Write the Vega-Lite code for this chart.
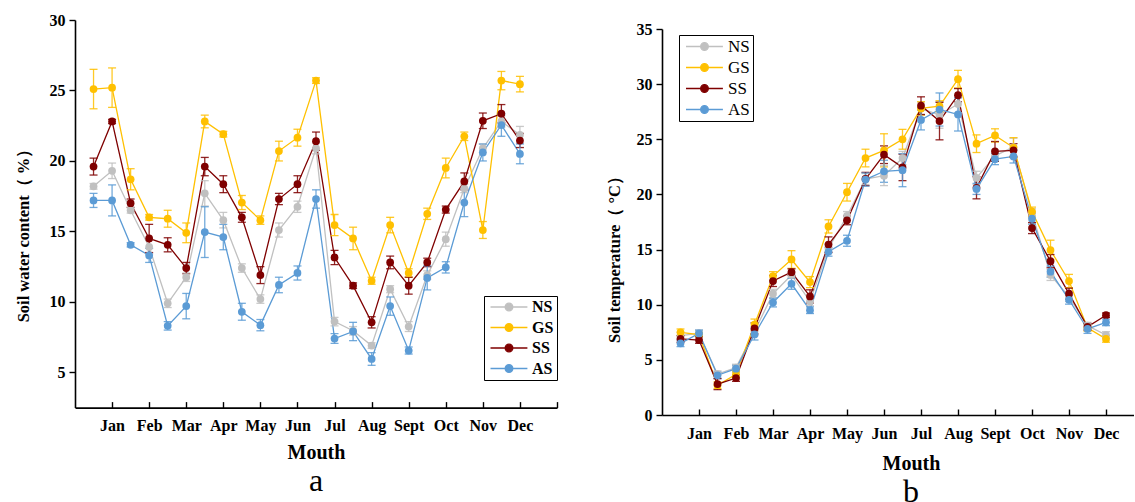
{
"$schema": "https://vega.github.io/schema/vega-lite/v6.json",
"padding": {"left": 15, "top": 12, "right": 0, "bottom": 0},
"config": {
  "font": "Liberation Serif, Times New Roman, serif",
  "view": {"stroke": null},
  "axis": {"grid": false, "domainColor": "black", "domainWidth": 1.6, "tickColor": "black", "tickWidth": 1.4, "labelColor": "black", "titleColor": "black", "labelFont": "Liberation Serif, Times New Roman, serif", "titleFont": "Liberation Serif, Times New Roman, serif", "labelFontWeight": "bold", "titleFontWeight": "bold", "labelFontSize": 16},
  "legend": {"strokeColor": "black", "strokeWidth": 1, "padding": 3, "title": null, "symbolSize": 81, "labelOffset": 29, "rowPadding": 3, "symbolStrokeWidth": 1.3,
    "symbolType": "M-1,0H7.2M2.26,0A0.85,0.85,0,1,1,3.96,0A0.85,0.85,0,1,1,2.26,0Z"}
},
"datasets": {
  "wc": [
    {"m":0,"s":"NS","v":18.2,"e":0.2},{"m":1,"s":"NS","v":19.3,"e":0.55},{"m":2,"s":"NS","v":16.5,"e":0.2},{"m":3,"s":"NS","v":13.9,"e":0.5},{"m":4,"s":"NS","v":9.9,"e":0.3},{"m":5,"s":"NS","v":11.75,"e":0.3},{"m":6,"s":"NS","v":17.7,"e":0.9},{"m":7,"s":"NS","v":15.8,"e":0.55},{"m":8,"s":"NS","v":12.4,"e":0.3},{"m":9,"s":"NS","v":10.2,"e":0.3},{"m":10,"s":"NS","v":15.1,"e":0.5},{"m":11,"s":"NS","v":16.75,"e":0.4},{"m":12,"s":"NS","v":20.9,"e":0.4},{"m":13,"s":"NS","v":8.6,"e":0.3},{"m":14,"s":"NS","v":7.95,"e":0.3},{"m":15,"s":"NS","v":6.9,"e":0.2},{"m":16,"s":"NS","v":10.9,"e":0.25},{"m":17,"s":"NS","v":8.25,"e":0.35},{"m":18,"s":"NS","v":11.9,"e":0.3},{"m":19,"s":"NS","v":14.45,"e":0.5},{"m":20,"s":"NS","v":18.05,"e":0.3},{"m":21,"s":"NS","v":20.9,"e":0.3},{"m":22,"s":"NS","v":22.8,"e":0.4},{"m":23,"s":"NS","v":21.85,"e":0.6},
    {"m":0,"s":"GS","v":25.1,"e":1.4},{"m":1,"s":"GS","v":25.2,"e":1.4},{"m":2,"s":"GS","v":18.7,"e":0.75},{"m":3,"s":"GS","v":16.0,"e":0.2},{"m":4,"s":"GS","v":15.9,"e":0.6},{"m":5,"s":"GS","v":14.9,"e":0.7},{"m":6,"s":"GS","v":22.8,"e":0.45},{"m":7,"s":"GS","v":21.9,"e":0.2},{"m":8,"s":"GS","v":17.05,"e":0.5},{"m":9,"s":"GS","v":15.8,"e":0.3},{"m":10,"s":"GS","v":20.7,"e":0.7},{"m":11,"s":"GS","v":21.65,"e":0.6},{"m":12,"s":"GS","v":25.7,"e":0.2},{"m":13,"s":"GS","v":15.45,"e":0.75},{"m":14,"s":"GS","v":14.5,"e":0.8},{"m":15,"s":"GS","v":11.5,"e":0.25},{"m":16,"s":"GS","v":15.45,"e":0.55},{"m":17,"s":"GS","v":12.05,"e":0.3},{"m":18,"s":"GS","v":16.25,"e":0.4},{"m":19,"s":"GS","v":19.5,"e":0.7},{"m":20,"s":"GS","v":21.75,"e":0.3},{"m":21,"s":"GS","v":15.1,"e":0.6},{"m":22,"s":"GS","v":25.7,"e":0.65},{"m":23,"s":"GS","v":25.45,"e":0.55},
    {"m":0,"s":"SS","v":19.6,"e":0.6},{"m":1,"s":"SS","v":22.8,"e":0.15},{"m":2,"s":"SS","v":17.0,"e":0.3},{"m":3,"s":"SS","v":14.5,"e":1.0},{"m":4,"s":"SS","v":14.05,"e":0.5},{"m":5,"s":"SS","v":12.4,"e":0.4},{"m":6,"s":"SS","v":19.6,"e":0.65},{"m":7,"s":"SS","v":18.35,"e":0.6},{"m":8,"s":"SS","v":16.0,"e":0.35},{"m":9,"s":"SS","v":11.9,"e":0.6},{"m":10,"s":"SS","v":17.3,"e":0.4},{"m":11,"s":"SS","v":18.35,"e":0.6},{"m":12,"s":"SS","v":21.4,"e":0.65},{"m":13,"s":"SS","v":13.15,"e":0.5},{"m":14,"s":"SS","v":11.15,"e":0.2},{"m":15,"s":"SS","v":8.55,"e":0.4},{"m":16,"s":"SS","v":12.8,"e":0.45},{"m":17,"s":"SS","v":11.15,"e":0.6},{"m":18,"s":"SS","v":12.8,"e":0.3},{"m":19,"s":"SS","v":16.55,"e":0.25},{"m":20,"s":"SS","v":18.55,"e":0.6},{"m":21,"s":"SS","v":22.85,"e":0.55},{"m":22,"s":"SS","v":23.35,"e":0.65},{"m":23,"s":"SS","v":21.45,"e":0.5},
    {"m":0,"s":"AS","v":17.2,"e":0.5},{"m":1,"s":"AS","v":17.2,"e":1.1},{"m":2,"s":"AS","v":14.05,"e":0.15},{"m":3,"s":"AS","v":13.3,"e":0.5},{"m":4,"s":"AS","v":8.3,"e":0.3},{"m":5,"s":"AS","v":9.7,"e":0.9},{"m":6,"s":"AS","v":14.95,"e":1.8},{"m":7,"s":"AS","v":14.6,"e":0.9},{"m":8,"s":"AS","v":9.3,"e":0.6},{"m":9,"s":"AS","v":8.35,"e":0.4},{"m":10,"s":"AS","v":11.2,"e":0.55},{"m":11,"s":"AS","v":12.05,"e":0.5},{"m":12,"s":"AS","v":17.3,"e":0.65},{"m":13,"s":"AS","v":7.4,"e":0.35},{"m":14,"s":"AS","v":7.9,"e":0.65},{"m":15,"s":"AS","v":5.95,"e":0.45},{"m":16,"s":"AS","v":9.7,"e":0.65},{"m":17,"s":"AS","v":6.55,"e":0.25},{"m":18,"s":"AS","v":11.7,"e":0.85},{"m":19,"s":"AS","v":12.45,"e":0.4},{"m":20,"s":"AS","v":17.05,"e":1.0},{"m":21,"s":"AS","v":20.6,"e":0.6},{"m":22,"s":"AS","v":22.55,"e":0.8},{"m":23,"s":"AS","v":20.5,"e":0.7}
  ],
  "st": [
    {"m":0,"s":"NS","v":7.2,"e":0.3},{"m":1,"s":"NS","v":7.4,"e":0.3},{"m":2,"s":"NS","v":3.7,"e":0.3},{"m":3,"s":"NS","v":4.3,"e":0.3},{"m":4,"s":"NS","v":7.6,"e":0.4},{"m":5,"s":"NS","v":11.0,"e":0.4},{"m":6,"s":"NS","v":12.7,"e":0.3},{"m":7,"s":"NS","v":10.3,"e":0.4},{"m":8,"s":"NS","v":15.1,"e":0.4},{"m":9,"s":"NS","v":18.05,"e":0.4},{"m":10,"s":"NS","v":21.4,"e":0.5},{"m":11,"s":"NS","v":21.7,"e":0.9},{"m":12,"s":"NS","v":23.3,"e":0.6},{"m":13,"s":"NS","v":27.8,"e":0.6},{"m":14,"s":"NS","v":27.2,"e":1.2},{"m":15,"s":"NS","v":28.2,"e":0.8},{"m":16,"s":"NS","v":21.5,"e":0.6},{"m":17,"s":"NS","v":23.5,"e":0.5},{"m":18,"s":"NS","v":24.3,"e":0.8},{"m":19,"s":"NS","v":18.3,"e":0.4},{"m":20,"s":"NS","v":12.7,"e":0.5},{"m":21,"s":"NS","v":10.7,"e":0.4},{"m":22,"s":"NS","v":8.1,"e":0.3},{"m":23,"s":"NS","v":7.25,"e":0.3},
    {"m":0,"s":"GS","v":7.5,"e":0.3},{"m":1,"s":"GS","v":7.3,"e":0.2},{"m":2,"s":"GS","v":2.7,"e":0.3},{"m":3,"s":"GS","v":3.7,"e":0.3},{"m":4,"s":"GS","v":8.2,"e":0.5},{"m":5,"s":"GS","v":12.6,"e":0.4},{"m":6,"s":"GS","v":14.1,"e":0.8},{"m":7,"s":"GS","v":12.05,"e":0.5},{"m":8,"s":"GS","v":17.1,"e":0.6},{"m":9,"s":"GS","v":20.2,"e":0.8},{"m":10,"s":"GS","v":23.3,"e":0.8},{"m":11,"s":"GS","v":24.0,"e":1.5},{"m":12,"s":"GS","v":25.0,"e":0.9},{"m":13,"s":"GS","v":27.8,"e":0.6},{"m":14,"s":"GS","v":28.0,"e":0.5},{"m":15,"s":"GS","v":30.45,"e":0.8},{"m":16,"s":"GS","v":24.6,"e":0.8},{"m":17,"s":"GS","v":25.35,"e":0.6},{"m":18,"s":"GS","v":24.25,"e":0.9},{"m":19,"s":"GS","v":18.45,"e":0.4},{"m":20,"s":"GS","v":14.95,"e":0.9},{"m":21,"s":"GS","v":12.15,"e":0.6},{"m":22,"s":"GS","v":7.9,"e":0.3},{"m":23,"s":"GS","v":6.9,"e":0.3},
    {"m":0,"s":"SS","v":6.9,"e":0.3},{"m":1,"s":"SS","v":6.8,"e":0.3},{"m":2,"s":"SS","v":2.8,"e":0.5},{"m":3,"s":"SS","v":3.35,"e":0.3},{"m":4,"s":"SS","v":7.85,"e":0.5},{"m":5,"s":"SS","v":12.15,"e":0.5},{"m":6,"s":"SS","v":12.95,"e":0.3},{"m":7,"s":"SS","v":10.75,"e":0.6},{"m":8,"s":"SS","v":15.45,"e":0.7},{"m":9,"s":"SS","v":17.65,"e":0.4},{"m":10,"s":"SS","v":21.4,"e":0.6},{"m":11,"s":"SS","v":23.6,"e":0.8},{"m":12,"s":"SS","v":22.45,"e":1.2},{"m":13,"s":"SS","v":28.05,"e":0.8},{"m":14,"s":"SS","v":26.65,"e":1.7},{"m":15,"s":"SS","v":29.0,"e":0.6},{"m":16,"s":"SS","v":20.6,"e":1.0},{"m":17,"s":"SS","v":23.9,"e":0.9},{"m":18,"s":"SS","v":24.0,"e":0.6},{"m":19,"s":"SS","v":16.95,"e":0.5},{"m":20,"s":"SS","v":13.95,"e":0.6},{"m":21,"s":"SS","v":11.0,"e":0.5},{"m":22,"s":"SS","v":8.0,"e":0.3},{"m":23,"s":"SS","v":9.05,"e":0.2},
    {"m":0,"s":"AS","v":6.5,"e":0.3},{"m":1,"s":"AS","v":7.4,"e":0.3},{"m":2,"s":"AS","v":3.6,"e":0.3},{"m":3,"s":"AS","v":4.2,"e":0.3},{"m":4,"s":"AS","v":7.3,"e":0.5},{"m":5,"s":"AS","v":10.2,"e":0.4},{"m":6,"s":"AS","v":11.9,"e":0.5},{"m":7,"s":"AS","v":9.5,"e":0.3},{"m":8,"s":"AS","v":14.8,"e":0.4},{"m":9,"s":"AS","v":15.8,"e":0.5},{"m":10,"s":"AS","v":21.35,"e":0.6},{"m":11,"s":"AS","v":22.1,"e":1.0},{"m":12,"s":"AS","v":22.2,"e":1.5},{"m":13,"s":"AS","v":26.75,"e":0.9},{"m":14,"s":"AS","v":27.7,"e":1.5},{"m":15,"s":"AS","v":27.25,"e":1.5},{"m":16,"s":"AS","v":20.5,"e":0.5},{"m":17,"s":"AS","v":23.2,"e":0.5},{"m":18,"s":"AS","v":23.45,"e":0.6},{"m":19,"s":"AS","v":17.8,"e":0.5},{"m":20,"s":"AS","v":13.0,"e":0.5},{"m":21,"s":"AS","v":10.45,"e":0.4},{"m":22,"s":"AS","v":7.8,"e":0.4},{"m":23,"s":"AS","v":8.4,"e":0.3}
  ]
},
"resolve": {"scale": {"x": "independent", "y": "independent", "color": "independent"}, "legend": {"color": "independent"}},
"spacing": 48,
"hconcat": [
  {
    "width": 482, "height": 387.6,
    "data": {"name": "wc"},
    "title": {"text": "a", "orient": "bottom", "frame": "group", "anchor": "middle", "fontSize": 32, "fontWeight": "normal", "font": "Liberation Serif, Times New Roman, serif", "offset": 3},
    "encoding": {
      "x": {"field": "m", "type": "quantitative", "scale": {"domain": [-1, 25], "nice": false, "zero": false},
        "axis": {"values": [1,3,5,7,9,11,13,15,17,19,21,23,25], "labelExpr": "['Jan','Feb','Mar','Apr','May','Jun','Jul','Aug','Sept','Oct','Nov','Dec',''][(datum.value-1)/2]", "tickSize": -6, "labelPadding": 16, "title": "Mouth", "titleFontSize": 20, "titlePadding": 9}},
      "y": {"field": "v", "type": "quantitative", "scale": {"domain": [2.5, 30], "nice": false, "zero": false},
         "axis": {"values": [5,10,15,20,25,30], "tickSize": 6, "labelPadding": 4, "title": "Soil water content（ %）", "titleFontSize": 16.5, "titlePadding": 18, "titleY": 211}},
      "color": {"field": "s", "type": "nominal", "scale": {"domain": ["NS","GS","SS","AS"], "range": ["#c0c0c0","#ffc000","#7f0000","#5b9bd5"]},
        "legend": {"orient": "none", "legendX": 409, "legendY": 276, "rowPadding": 4.5, "labelFontWeight": "bold", "labelFontSize": 16, "labelFont": "Liberation Serif, Times New Roman, serif",
          "encode": {"symbols": {"update": {"fill": {"signal": "datum.value=='NS'?'#c0c0c0':datum.value=='GS'?'#ffc000':datum.value=='SS'?'#7f0000':'#5b9bd5'"}, "stroke": {"signal": "datum.value=='NS'?'#c0c0c0':datum.value=='GS'?'#ffc000':datum.value=='SS'?'#7f0000':'#5b9bd5'"}, "opacity": {"value": 1}}}}}}
    },
    "layer": [
      {"mark": {"type": "line", "strokeWidth": 1.3}},
      {"mark": {"type": "errorbar", "ticks": {"size": 8}, "thickness": 1.3, "opacity": 0.85},
       "encoding": {"yError": {"field": "e"}}},
      {"mark": {"type": "point", "filled": true, "size": 60, "opacity": 1}}
    ]
  },
  {
    "spacing": 0,
    "vconcat": [
      {"width": 1, "height": 1, "data": {"values": []}, "mark": {"type": "point"}},
      {
        "width": 471.75, "height": 386,
        "data": {"name": "st"},
        "title": {"text": "b", "orient": "bottom", "frame": "group", "anchor": "middle", "fontSize": 32, "fontWeight": "normal", "font": "Liberation Serif, Times New Roman, serif", "offset": 4, "dx": 13},
        "encoding": {
          "x": {"field": "m", "type": "quantitative", "scale": {"domain": [-1, 24.5], "nice": false, "zero": false},
            "axis": {"values": [1,3,5,7,9,11,13,15,17,19,21,23], "labelExpr": "['Jan','Feb','Mar','Apr','May','Jun','Jul','Aug','Sept','Oct','Nov','Dec'][(datum.value-1)/2]", "tickSize": -6, "labelPadding": 16, "title": "Mouth", "titleFontSize": 20, "titlePadding": 12, "titleX": 249}},
          "y": {"field": "v", "type": "quantitative", "scale": {"domain": [0, 35], "nice": false, "zero": false},
             "axis": {"values": [0,5,10,15,20,25,30,35], "tickSize": 6, "labelPadding": 4, "title": "Soil temperature（ °C）", "titleFontSize": 16.5, "titlePadding": 14, "titleY": 226}},
          "color": {"field": "s", "type": "nominal", "scale": {"domain": ["NS","GS","SS","AS"], "range": ["#c0c0c0","#ffc000","#7f0000","#5b9bd5"]},
            "legend": {"orient": "none", "legendX": 17, "legendY": 15, "labelFontWeight": "normal", "labelFontSize": 17, "labelFont": "Liberation Serif, Times New Roman, serif",
              "encode": {"symbols": {"update": {"fill": {"signal": "datum.value=='NS'?'#c0c0c0':datum.value=='GS'?'#ffc000':datum.value=='SS'?'#7f0000':'#5b9bd5'"}, "stroke": {"signal": "datum.value=='NS'?'#c0c0c0':datum.value=='GS'?'#ffc000':datum.value=='SS'?'#7f0000':'#5b9bd5'"}, "opacity": {"value": 1}}}}}}
        },
        "layer": [
          {"mark": {"type": "line", "strokeWidth": 1.3}},
          {"mark": {"type": "errorbar", "ticks": {"size": 8}, "thickness": 1.3, "opacity": 0.85},
           "encoding": {"yError": {"field": "e"}}},
          {"mark": {"type": "point", "filled": true, "size": 60, "opacity": 1}}
        ]
      }
    ]
  }
]
}
